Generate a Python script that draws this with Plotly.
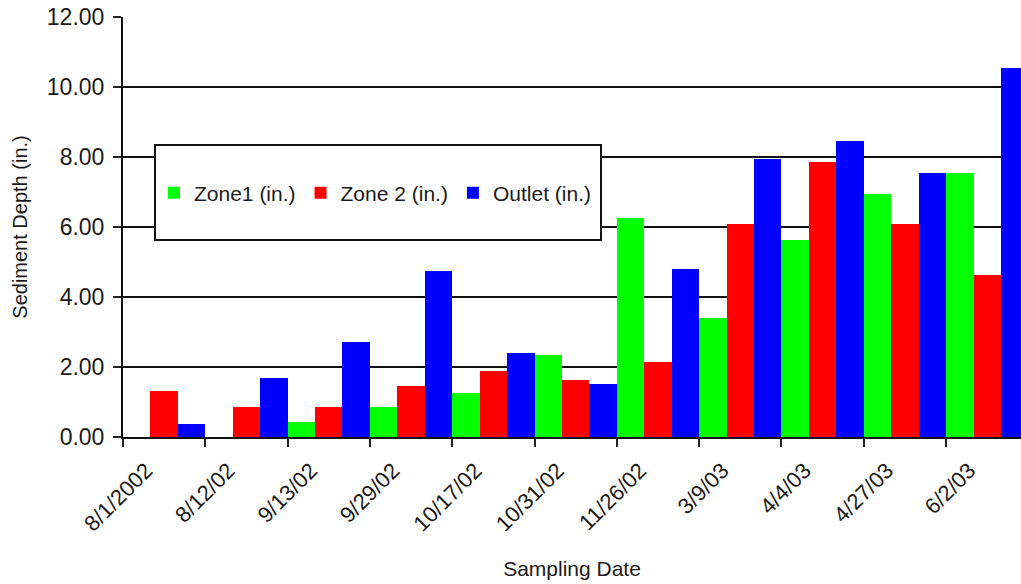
import plotly.graph_objects as go

dates = ["8/1/2002", "8/12/02", "9/13/02", "9/29/02", "10/17/02", "10/31/02",
         "11/26/02", "3/9/03", "4/4/03", "4/27/03", "6/2/03"]
zone1 = [0.0, 0.0, 0.42, 0.85, 1.25, 2.34, 6.25, 3.39, 5.63, 6.93, 7.55]
zone2 = [1.31, 0.85, 0.85, 1.47, 1.89, 1.62, 2.14, 6.10, 7.87, 6.10, 4.64]
outlet = [0.37, 1.68, 2.71, 4.75, 2.41, 1.51, 4.79, 7.93, 8.46, 7.55, 10.53]

FONT = "Liberation Sans, Arial, sans-serif"
TXT = "#1a1a1a"

fig = go.Figure()
fig.add_trace(go.Bar(x=dates, y=zone1, name="Zone1 (in.)", marker=dict(color="#00ff00", line=dict(width=0))))
fig.add_trace(go.Bar(x=dates, y=zone2, name="Zone 2 (in.)", marker=dict(color="#ff0000", line=dict(width=0))))
fig.add_trace(go.Bar(x=dates, y=outlet, name="Outlet (in.)", marker=dict(color="#0000ff", line=dict(width=0))))

PW, PH = 898, 420

fig.update_layout(
    width=1021, height=584,
    margin=dict(l=123, r=0, t=17, b=147, autoexpand=False),
    paper_bgcolor="white", plot_bgcolor="white",
    barmode="group", bargap=0, bargroupgap=0,
    font=dict(family=FONT, color=TXT, size=21),
    showlegend=True,
    legend=dict(orientation="h", x=(154 - 123) / PW, xanchor="left",
                y=1 - (193 - 17) / PH, yanchor="middle",
                bgcolor="rgba(0,0,0,0)", borderwidth=0,
                font=dict(family=FONT, size=21, color=TXT), traceorder="normal"),
    shapes=[dict(type="rect", xref="paper", yref="paper",
                 x0=(155 - 123) / PW, x1=(601 - 123) / PW,
                 y0=1 - (240 - 17) / PH, y1=1 - (145 - 17) / PH,
                 line=dict(color="#111111", width=2), fillcolor="white", layer="above")],
)

fig.update_xaxes(
    type="category", range=[-0.5, 10.41], tickson="boundaries", automargin=False,
    ticks="outside", ticklen=8, tickwidth=2, tickcolor="#222222",
    showline=True, linecolor="#111111", linewidth=2,
    showgrid=False, tickangle=-45, ticklabelshift=-18, ticklabelstandoff=10,
    tickfont=dict(family=FONT, size=22, color=TXT),
    title=dict(text="Sampling Date", font=dict(family=FONT, size=21, color=TXT), standoff=26),
)
fig.update_yaxes(
    range=[0, 12], dtick=2, tickformat=".2f", automargin=False,
    ticks="outside", ticklen=8, tickwidth=2, tickcolor="#222222",
    showline=True, linecolor="#111111", linewidth=2,
    showgrid=True, gridcolor="#111111", gridwidth=1.5,
    zeroline=False, ticklabelstandoff=4,
    tickfont=dict(family=FONT, size=23, color=TXT),
    title=dict(text="Sediment Depth (in.)", font=dict(family=FONT, size=20, color=TXT), standoff=14),
)

fig.write_html("out.html", config={"displayModeBar": False},
               post_script="document.body.style.margin='0';document.body.style.overflow='hidden';")
